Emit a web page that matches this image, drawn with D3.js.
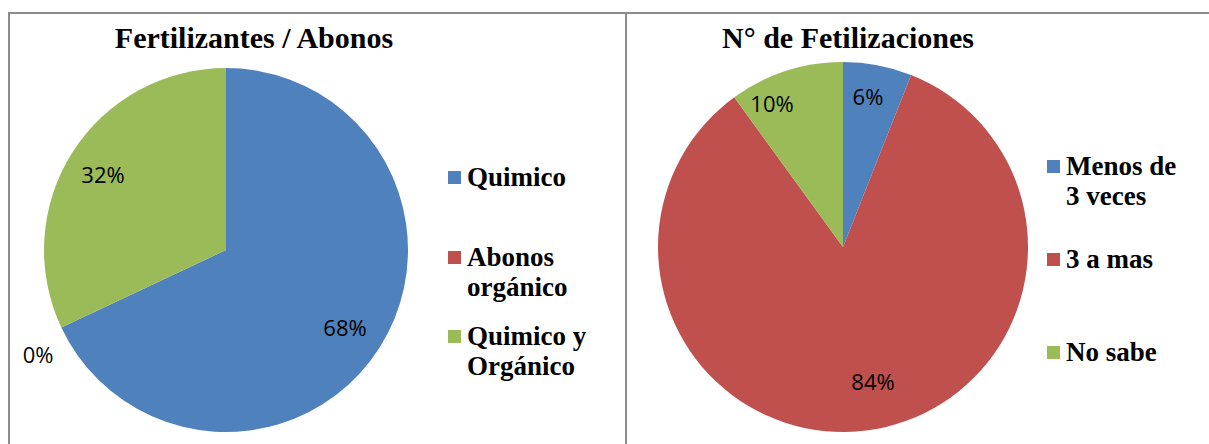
<!DOCTYPE html>
<html>
<head>
<meta charset="utf-8">
<script src="https://cdn.jsdelivr.net/npm/d3@7"></script>
<style>
  html, body { margin: 0; padding: 0; background: #fff; }
  svg { display: block; }
</style>
</head>
<body>
<svg id="chart" width="1209" height="444"></svg>
<script>
// Chart 1: fertiliser type
const fertCategories = ["Quimico", "Abonos orgánico", "Quimico y Orgánico"];
const fertValues = [68, 0, 32];
const fertLegendLines = [["Quimico"], ["Abonos", "orgánico"], ["Quimico y", "Orgánico"]];

// Chart 2: number of fertilisations
const countCategories = ["Menos de 3 veces", "3 a mas", "No sabe"];
const countValues = [6, 84, 10];
const countLegendLines = [["Menos de", "3 veces"], ["3 a mas"], ["No sabe"]];

const colors = ["#4F81BD", "#C0504D", "#9BBB59"];

const svg = d3.select("#chart");

// Panel frames
const frame = svg.append("g").attr("fill", "none").attr("stroke", "#8c8c8c").attr("stroke-width", 2);
frame.append("rect").attr("x", 9).attr("y", 13).attr("width", 617).attr("height", 460);
frame.append("rect").attr("x", 626).attr("y", 13).attr("width", 620).attr("height", 460);

function drawPie(opts) {
  const g = svg.append("g");
  const color = d3.scaleOrdinal().domain(opts.categories).range(colors);
  const pie = d3.pie().sort(null).value(d => d.value);
  const data = opts.categories.map((c, i) => ({ cat: c, value: opts.values[i] }));
  const arcs = pie(data);
  const arc = d3.arc().innerRadius(0).outerRadius(opts.r);

  const pg = g.append("g").attr("transform", `translate(${opts.cx},${opts.cy})`);
  pg.selectAll("path").data(arcs.filter(d => d.value > 0)).join("path")
    .attr("d", arc)
    .attr("fill", d => color(d.data.cat));

  // Percentage labels
  pg.selectAll("text").data(arcs).join("text")
    .attr("x", (d, i) => opts.labelPos[i][0] - opts.cx)
    .attr("y", (d, i) => opts.labelPos[i][1] - opts.cy)
    .attr("text-anchor", "middle")
    .attr("dominant-baseline", "central")
    .attr("font-family", "'Open Sans', Lato, sans-serif")
    .attr("font-size", 22)
    .attr("fill", "#000")
    .text(d => d.value + "%");

  // Title
  g.append("text")
    .attr("x", opts.titleX).attr("y", 48)
    .attr("text-anchor", "middle")
    .attr("font-family", "'Liberation Serif', 'Times New Roman', serif")
    .attr("font-weight", "bold")
    .attr("font-size", 30)
    .text(opts.title);

  // Legend
  const lg = g.append("g");
  opts.legendLines.forEach((lines, i) => {
    const y0 = opts.legendY[i];
    lg.append("rect")
      .attr("x", opts.legendX).attr("y", y0 - 6)
      .attr("width", 13).attr("height", 13)
      .attr("fill", color(opts.categories[i]));
    lines.forEach((t, j) => {
      lg.append("text")
        .attr("x", opts.legendX + 19).attr("y", y0 + j * 30)
        .attr("dominant-baseline", "central")
        .attr("font-family", "'Liberation Serif', 'Times New Roman', serif")
        .attr("font-weight", "bold")
        .attr("font-size", 27)
        .text(t);
    });
  });
}

drawPie({
  categories: fertCategories, values: fertValues, legendLines: fertLegendLines,
  cx: 226, cy: 250, r: 182,
  labelPos: [[345, 327], [38, 354], [103, 174]],
  title: "Fertilizantes / Abonos", titleX: 254,
  legendX: 448, legendY: [177, 257, 336]
});

drawPie({
  categories: countCategories, values: countValues, legendLines: countLegendLines,
  cx: 843, cy: 247, r: 185,
  labelPos: [[868, 96], [873, 381], [772, 103]],
  title: "N° de Fetilizaciones", titleX: 848,
  legendX: 1047, legendY: [166, 259, 352]
});
</script>
</body>
</html>
